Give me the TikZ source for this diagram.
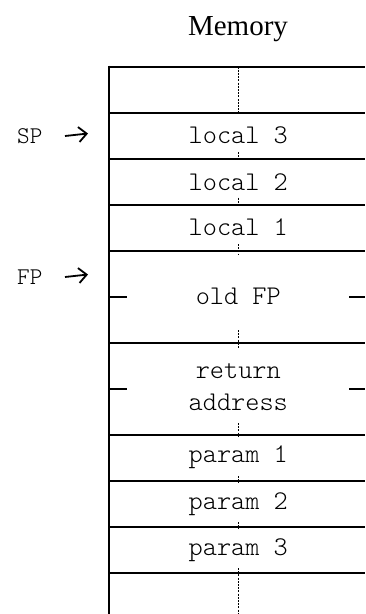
\documentclass[tikz,border=0pt]{standalone}
\usepackage{fontspec}
\setmainfont{Liberation Serif}
\setmonofont{Latin Modern Mono Light}
\usetikzlibrary{arrows.meta}
\begin{document}
\begin{tikzpicture}[x=1pt,y=-1pt,
  rowline/.style={line width=2pt},
  centerdash/.style={line width=0.6pt,dash pattern=on 2pt off 1.2pt},
  celltext/.style={font=\fontsize{27}{32}\selectfont\ttfamily,inner sep=0pt,align=center},
  ptrtext/.style={font=\fontsize{24}{28}\selectfont\ttfamily,inner sep=0pt,anchor=west},
  ptrarrow/.style={line width=1.8pt,-{Straight Barb[length=8pt,width=15pt,line width=1.8pt]}},
  title/.style={font=\fontsize{29}{34}\selectfont,inner sep=0pt}]
\useasboundingbox (0,0) rectangle (365,614);
% title
\node[title] (mem) at (238,29) {Memory};
% horizontal lines
\foreach \y in {66.5,112.5,159,204.5,250.7,343.3,434.7,480.7,527,573.3}
  \draw[rowline] (109.3,\y) -- (365,\y);
% left border
\draw[rowline] (109.3,65.5) -- (109.3,614);
% center dashed line pieces
\draw[centerdash] (238.3,66.5) -- (238.3,112.5);
\draw[centerdash] (238.3,152) -- (238.3,159);
\draw[centerdash] (238.3,197.5) -- (238.3,204.5);
\draw[centerdash] (238.3,244) -- (238.3,255);
\draw[centerdash] (238.3,330) -- (238.3,349);
\draw[centerdash] (238.3,423) -- (238.3,436);
\draw[centerdash] (238.3,476) -- (238.3,483);
\draw[centerdash] (238.3,522) -- (238.3,529);
\draw[centerdash] (238.3,568) -- (238.3,614);
% side ticks of double rows
\draw[rowline] (109.3,296.7) -- (126.7,296.7);
\draw[rowline] (349,296.7) -- (365,296.7);
\draw[rowline] (109.3,389) -- (126.7,389);
\draw[rowline] (349,389) -- (365,389);
% cell texts
\node[celltext] (l3) at (238.3,135.7) {local 3};
\node[celltext] (l2) at (238.3,181.7) {local 2};
\node[celltext] (l1) at (238.3,227.6) {local 1};
\node[celltext] (ofp) at (238.3,296.7) {old FP};
\node[celltext] (ra) at (238.3,387) {return\\address};
\node[celltext] (p1) at (238.3,457.7) {param 1};
\node[celltext] (p2) at (238.3,503.8) {param 2};
\node[celltext] (p3) at (238.3,550.1) {param 3};
% pointers
\node[ptrtext] (sp) at (17,136) {SP};
\coordinate (spend) at (88,133.5);
\draw[ptrarrow] (sp.east -| 65,133.5) -- (spend);
\node[ptrtext] (fp) at (17,277) {FP};
\coordinate (fpend) at (88,274.5);
\draw[ptrarrow] (fp.east -| 65,274.5) -- (fpend);
\end{tikzpicture}
\end{document}
